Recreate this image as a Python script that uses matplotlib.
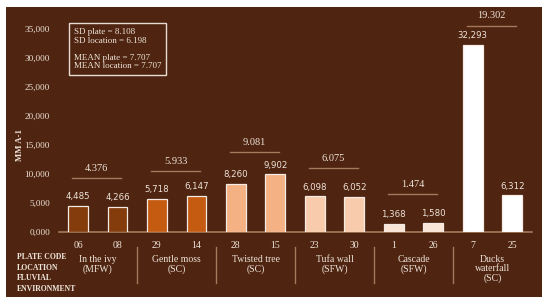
import matplotlib.pyplot as plt
from matplotlib.patches import Rectangle

# data
plate_codes = ["06", "08", "29", "14", "28", "15", "23", "30", "1", "26", "7", "25"]
values = [4485, 4266, 5718, 6147, 8260, 9902, 6098, 6052, 1368, 1580, 32293, 6312]
locations = ["In the ivy\n(MFW)", "Gentle moss\n(SC)", "Twisted tree\n(SC)",
             "Tufa wall\n(SFW)", "Cascade\n(SFW)", "Ducks\nwaterfall\n(SC)"]
group_means = ["4.376", "5.933", "9.081", "6.075", "1.474", "19.302"]
row_names = "PLATE CODE\nLOCATION\nFLUVIAL\nENVIRONMENT"
stats_text = ("SD plate = 8.108\nSD location = 6.198\n\n"
              "MEAN plate = 7.707\nMEAN location = 7.707")

# look
bg = "#4f2410"
txt = "#eee4da"
line_c = "#a57a5c"
group_colors = ["#843c0c", "#c55a11", "#f4b183", "#f8cbad", "#fbe5d6", "#ffffff"]
bracket_y = [9300, 10500, 13700, 10950, 6500, 35600]
serif = "Liberation Serif"

fig = plt.figure(figsize=(5.5, 3.06), dpi=100, facecolor="white")
fig.patches.append(Rectangle((6 / 550, 9 / 306), 536 / 550, 290 / 306,
                             transform=fig.transFigure, facecolor=bg,
                             edgecolor="none", zorder=-10))

ax = fig.add_axes([59 / 550, 1 - 231.7 / 306, 473 / 550, 202.7 / 306])
ax.set_facecolor("none")

x = list(range(len(values)))
colors = [group_colors[i // 2] for i in x]
bars = ax.bar(x, values, width=0.5, color=colors, edgecolor="#f3ebe4", linewidth=0.9,
              zorder=3)
for xi, v in zip(x, values):
    ax.text(xi, v + 800, f"{v:,}", ha="center", va="bottom", fontsize=6.2,
            color=txt, family="DejaVu Sans", clip_on=False)

ax.set_xlim(-0.48, 11.5)
ax.set_ylim(0, 35000)
ax.set_yticks(range(0, 35001, 5000))
ax.set_yticklabels([f"{t:,}" if t else "0,000" for t in range(0, 35001, 5000)],
                   fontsize=6.6, color=txt, family=serif)
ax.set_xticks(x)
ax.set_xticklabels(plate_codes, fontsize=7, color=txt, family=serif)
ax.tick_params(length=0, pad=7)
ax.tick_params(axis="y", pad=6.5)
for s in ["top", "right", "left"]:
    ax.spines[s].set_visible(False)
ax.spines["bottom"].set_color(line_c)
ax.spines["bottom"].set_linewidth(1.2)
ax.set_ylabel("MM A-1", fontsize=6.3, color=txt, family=serif, fontweight="bold")
ax.yaxis.set_label_coords(-0.073, 0.43)

# group brackets with means
for g, (m, by) in enumerate(zip(group_means, bracket_y)):
    x0, x1 = 2 * g - 0.15, 2 * g + 1.1
    ax.plot([x0, x1], [by, by], color=line_c, lw=1, clip_on=False)
    ax.text((x0 + x1) / 2, by + 900, m, ha="center", va="bottom", fontsize=7.5,
            color=txt, family=serif, clip_on=False)

# location labels and separators below the axis
trans = ax.get_xaxis_transform()
for g, loc in enumerate(locations):
    ax.text(2 * g + 0.5, -0.115, loc, transform=trans, ha="center", va="top",
            fontsize=7, color=txt, family=serif, linespacing=1.0)
    if g > 0:
        ax.plot([2 * g - 0.5, 2 * g - 0.5], [-0.075, -0.255], transform=trans,
                color=line_c, lw=1, clip_on=False)

fig.text(17 / 550, 1 - 253 / 306, row_names, ha="left", va="top", fontsize=5.6,
         color=txt, family=serif, fontweight="bold", linespacing=1.45)

fig.text(74 / 550, 1 - 28 / 306, stats_text, ha="left", va="top", fontsize=6.5,
         color=txt, family=serif, linespacing=1.1,
         bbox=dict(boxstyle="square,pad=0.5", facecolor="none",
                   edgecolor="#e6dcd2", linewidth=1))

fig.savefig("out.png", dpi=100, facecolor="white")
